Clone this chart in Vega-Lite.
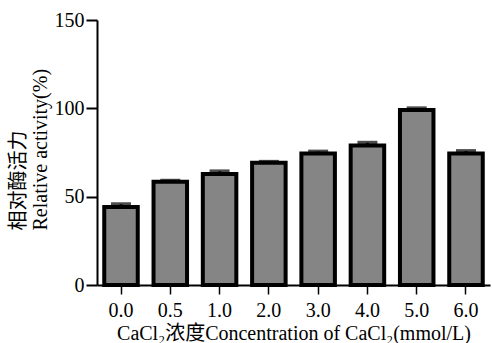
{
  "$schema": "https://vega.github.io/schema/vega-lite/v6.json",
  "width": 393,
  "height": 265,
  "autosize": {"type": "none"},
  "padding": {"left": 97, "top": 20, "right": 2, "bottom": 58},
  "background": "white",
  "config": {
    "view": {"stroke": null},
    "font": "Liberation Serif, Noto Sans CJK SC",
    "axis": {"labelFont": "Liberation Serif", "titleFont": "Liberation Serif, Noto Sans CJK SC", "titleFontWeight": "normal"}
  },
  "data": {
    "values": [
      {"c": "0.0", "v": 44.2, "hi": 45.7},
      {"c": "0.5", "v": 58.5, "hi": 59.0},
      {"c": "1.0", "v": 62.8, "hi": 64.3},
      {"c": "2.0", "v": 69.2, "hi": 69.7},
      {"c": "3.0", "v": 74.5, "hi": 75.5},
      {"c": "4.0", "v": 78.9, "hi": 80.5},
      {"c": "5.0", "v": 99.0, "hi": 100.0},
      {"c": "6.0", "v": 74.5, "hi": 75.8}
    ]
  },
  "encoding": {
    "x": {
      "field": "c",
      "type": "nominal",
      "sort": null,
      "scale": {"paddingInner": 0.32, "paddingOuter": 0.147},
      "axis": {
        "labelAngle": 0,
        "labelFontSize": 20,
        "labelColor": "black",
        "labelPadding": 6,
        "tickSize": 9,
        "tickWidth": 1.5,
        "tickColor": "black",
        "domainColor": "black",
        "domainWidth": 2,
        "title": "CaCl₂浓度Concentration of CaCl₂(mmol/L)",
        "titleFontSize": 20,
        "titleColor": "black",
        "titleBaseline": "alphabetic",
        "titleY": 54
      }
    }
  },
  "layer": [
    {
      "mark": {"type": "bar", "fill": "#858585", "stroke": "black", "strokeWidth": 4},
      "encoding": {
        "y": {
          "field": "v",
          "type": "quantitative",
          "scale": {"domain": [0, 150], "nice": false},
          "axis": {
            "values": [0, 50, 100, 150],
            "grid": false,
            "labelFontSize": 20,
            "labelColor": "black",
            "labelPadding": 2,
            "tickSize": 11,
            "tickWidth": 2,
            "tickColor": "black",
            "domainColor": "black",
            "domainWidth": 2,
            "title": ["相对酶活力", "Relative activity(%)"],
            "titleFontSize": 20,
            "titleColor": "black",
            "titleAngle": 270,
            "titleAlign": "left",
            "titleBaseline": "top",
            "titleLineHeight": 22,
            "titleX": -89,
            "titleY": 210
          }
        }
      }
    },
    {
      "mark": {"type": "rule", "color": "black", "strokeWidth": 3},
      "encoding": {
        "y": {"field": "v", "type": "quantitative"},
        "y2": {"field": "hi"}
      }
    },
    {
      "mark": {"type": "tick", "color": "black", "thickness": 4, "size": 20},
      "encoding": {
        "y": {"field": "hi", "type": "quantitative"}
      }
    }
  ]
}
